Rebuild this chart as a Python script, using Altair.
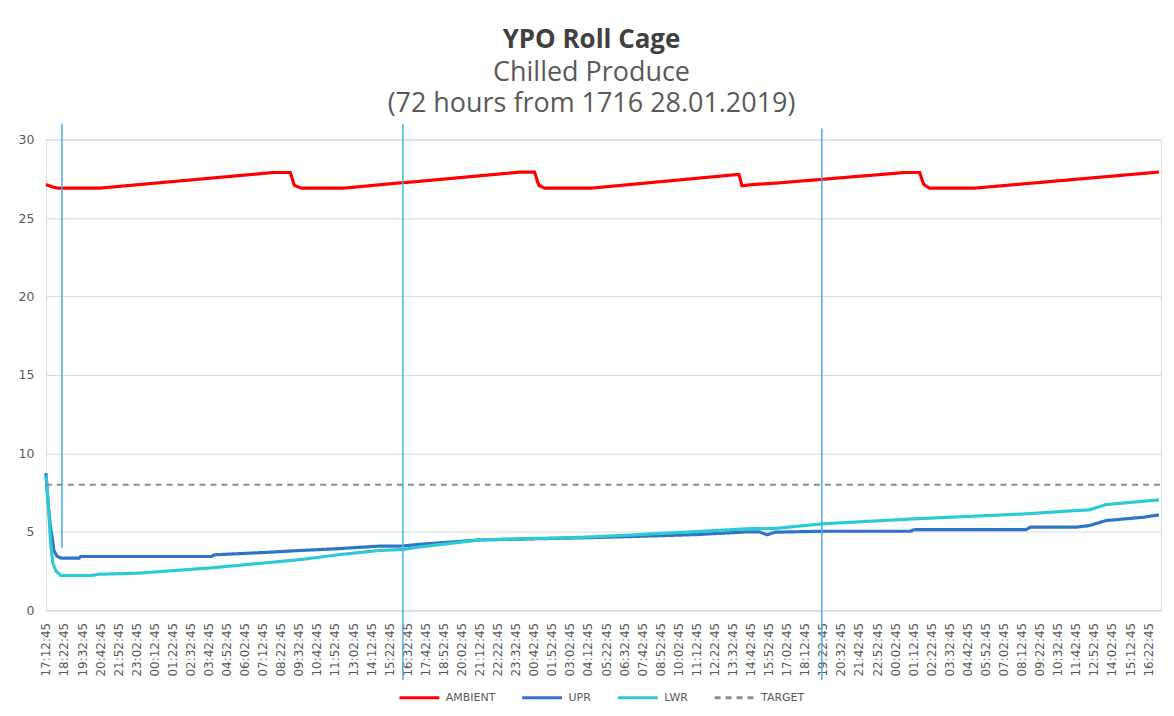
import altair as alt
import pandas as pd

# x positions are minutes since 17:12:45 on 28.01.2019
tick_labels = [
    "17:12:45", "18:22:45", "19:32:45", "20:42:45", "21:52:45", "23:02:45", "00:12:45",
    "01:22:45", "02:32:45", "03:42:45", "04:52:45", "06:02:45", "07:12:45", "08:22:45",
    "09:32:45", "10:42:45", "11:52:45", "13:02:45", "14:12:45", "15:22:45", "16:32:45",
    "17:42:45", "18:52:45", "20:02:45", "21:12:45", "22:22:45", "23:32:45", "00:42:45",
    "01:52:45", "03:02:45", "04:12:45", "05:22:45", "06:32:45", "07:42:45", "08:52:45",
    "10:02:45", "11:12:45", "12:22:45", "13:32:45", "14:42:45", "15:52:45", "17:02:45",
    "18:12:45", "19:22:45", "20:32:45", "21:42:45", "22:52:45", "00:02:45", "01:12:45",
    "02:22:45", "03:32:45", "04:42:45", "05:52:45", "07:02:45", "08:12:45", "09:22:45",
    "10:32:45", "11:42:45", "12:52:45", "14:02:45", "15:12:45", "16:22:45",
]
tick_step = 70
tick_minutes = [i * tick_step for i in range(len(tick_labels))]

amb_t = [0, 31, 50, 205, 881, 947, 962, 989, 1151, 1364, 1441, 1839, 1893, 1909, 1932,
         2110, 2670, 2685, 2697, 2728, 2832, 3327, 3385, 3400, 3423, 3594, 4312]
amb_v = [27.13, 26.95, 26.9, 26.9, 27.9, 27.9, 27.1, 26.9, 26.9, 27.23, 27.33, 27.93, 27.93,
         27.1, 26.9, 26.9, 27.76, 27.76, 27.05, 27.12, 27.23, 27.9, 27.9, 27.15, 26.9, 26.9, 27.93]

upr_t = [0, 8, 16, 24, 31, 43, 58, 128, 135, 641, 653, 850, 978, 1121, 1287, 1383, 1441,
         1685, 2071, 2264, 2523, 2716, 2763, 2794, 2825, 3006, 3350, 3362, 3798, 3814, 3991,
         4042, 4107, 4250, 4312]
upr_v = [8.75, 7.0, 5.5, 4.66, 3.81, 3.45, 3.33, 3.33, 3.43, 3.43, 3.54, 3.69, 3.81, 3.92,
         4.09, 4.1, 4.2, 4.49, 4.62, 4.7, 4.83, 5.0, 5.0, 4.82, 4.98, 5.04, 5.04, 5.15, 5.15,
         5.3, 5.3, 5.4, 5.72, 5.93, 6.08]

lwr_t = [0, 4, 12, 19, 27, 39, 58, 178, 205, 359, 641, 978, 1132, 1287, 1383, 1441, 1685,
         2071, 2264, 2523, 2716, 2832, 3006, 3362, 3798, 3991, 4042, 4107, 4250, 4312]
lwr_v = [8.6, 8.0, 6.0, 4.2, 3.0, 2.5, 2.22, 2.22, 2.3, 2.37, 2.71, 3.22, 3.54, 3.81, 3.88,
         4.03, 4.49, 4.65, 4.8, 5.02, 5.2, 5.23, 5.51, 5.83, 6.15, 6.36, 6.4, 6.74, 6.95, 7.04]

tgt_t = [0, 4320]
tgt_v = [8, 8]

# vertical marker lines
mk_t = [62, 1383, 3006]
mk_top = [31.0, 31.0, 30.7]
mk_bot = [3.96, -4.45, -4.45]

series_order = ["AMBIENT", "UPR", "LWR", "TARGET"]
series_colors = ["#FF0000", "#2E75C6", "#2CCAD4", "#7F9482"]
series_dash = [[1, 0], [1, 0], [1, 0], [6, 5]]
series_width = [3.2, 3.2, 3.2, 2.0]

rows = []
for name, ts, vs in [("AMBIENT", amb_t, amb_v), ("UPR", upr_t, upr_v),
                     ("LWR", lwr_t, lwr_v), ("TARGET", tgt_t, tgt_v)]:
    for t, v in zip(ts, vs):
        rows.append({"series": name, "t": t, "v": v})
df = pd.DataFrame(rows)

mk_df = pd.DataFrame({"t": mk_t, "v": mk_top, "v2": mk_bot})

label_expr = "[" + ",".join("'%s'" % s for s in tick_labels) + "][round(datum.value/%d)]" % tick_step

gray = "#595959"
x_enc = alt.X("t:Q", scale=alt.Scale(domain=[0, 4320], nice=False, zero=False),
              axis=alt.Axis(values=tick_minutes, labelExpr=label_expr, labelAngle=-90,
                            labelOverlap=False, grid=False, ticks=False, domainColor="#D9D9D9",
                            labelColor=gray, labelFontSize=12, labelFont="DejaVu Sans",
                            labelPadding=12, title=None))
y_enc = alt.Y("v:Q", scale=alt.Scale(domain=[0, 30], nice=False),
              axis=alt.Axis(values=[0, 5, 10, 15, 20, 25, 30], grid=True, gridColor="#D9D9D9",
                            domain=False, ticks=False, labelColor=gray, labelFontSize=12.5,
                            labelFont="DejaVu Sans", labelPadding=12, title=None))

legend = alt.Legend(title=None, orient="none", legendX=353, legendY=538, direction="horizontal",
                    symbolType="stroke", symbolSize=1600, symbolStrokeWidth=3,
                    labelFontSize=11, labelColor=gray, labelFont="DejaVu Sans",
                    columnPadding=20, labelOffset=5, padding=0)

color_enc = alt.Color("series:N", scale=alt.Scale(domain=series_order, range=series_colors),
                      legend=legend)
dash_enc = alt.StrokeDash("series:N", scale=alt.Scale(domain=series_order, range=series_dash),
                          legend=legend)

base = alt.Chart(df).encode(x=x_enc, y=y_enc, color=color_enc, strokeDash=dash_enc)

layers = []
for name, w in zip(series_order, series_width):
    layers.append(base.transform_filter(alt.datum.series == name).mark_line(strokeWidth=w))

rules = alt.Chart(mk_df).mark_rule(color="#45B1E3", strokeWidth=1.5).encode(
    x=x_enc, y=y_enc, y2="v2:Q")

chart = alt.layer(*layers, rules).properties(
    width=1118, height=472,
    padding={"left": 10, "top": 18, "right": 0, "bottom": 4},
    title=alt.TitleParams(
        text="YPO Roll Cage",
        subtitle=["Chilled Produce", "(72 hours from 1716 28.01.2019)"],
        font="Open Sans", fontSize=26, fontWeight="bold", color="#404040",
        subtitleFont="Open Sans", subtitleFontSize=27, subtitleColor=gray,
        subtitleLineHeight=31, subtitlePadding=7, anchor="middle", offset=6, dx=-12),
).configure_view(stroke=None).configure(background="white")

chart.save("out.html", embed_options={"renderer": "svg", "actions": False})
